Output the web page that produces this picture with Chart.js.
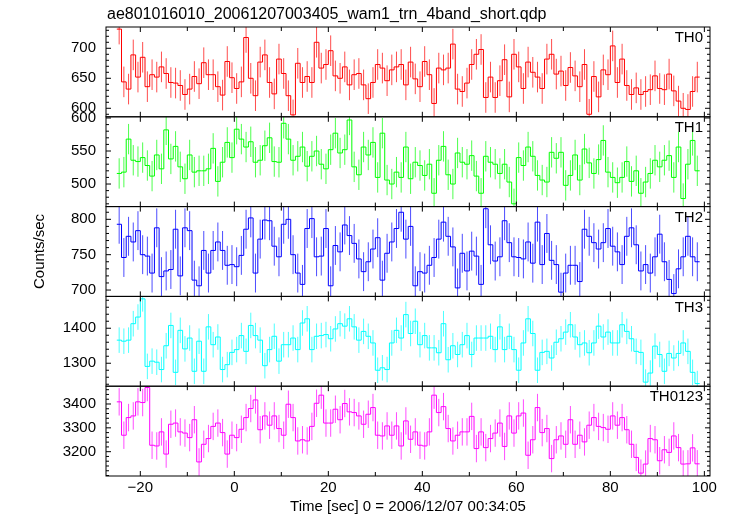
<!DOCTYPE html>
<html>
<head>
<meta charset="utf-8">
<title>ae801016010 WAM TRN light curve</title>
<script src="https://cdn.jsdelivr.net/npm/chart.js@4.4.0/dist/chart.umd.min.js"></script>
<style>
  html, body { margin: 0; padding: 0; background: #fff; }
  #wrap { position: relative; width: 729px; height: 516px; }
</style>
</head>
<body>
<div id="wrap"><canvas id="lc" width="729" height="516"></canvas></div>
<script>
// bin start times [sec], 1 s bins
const binStart = [
  -25, -24, -23, -22, -21, -20, -19, -18, -17, -16, -15, -14, -13, -12, -11, -10, -9, -8, -7, -6,
  -5, -4, -3, -2, -1, 0, 1, 2, 3, 4, 5, 6, 7, 8, 9, 10, 11, 12, 13, 14,
  15, 16, 17, 18, 19, 20, 21, 22, 23, 24, 25, 26, 27, 28, 29, 30, 31, 32, 33, 34,
  35, 36, 37, 38, 39, 40, 41, 42, 43, 44, 45, 46, 47, 48, 49, 50, 51, 52, 53, 54,
  55, 56, 57, 58, 59, 60, 61, 62, 63, 64, 65, 66, 67, 68, 69, 70, 71, 72, 73, 74,
  75, 76, 77, 78, 79, 80, 81, 82, 83, 84, 85, 86, 87, 88, 89, 90, 91, 92, 93, 94,
  95, 96, 97, 98
];
const binWidth = 1;

// count rates (counts/sec) per band
const th0 = [
  732, 644, 632, 689, 652, 685, 636, 656, 652, 669, 658, 643, 642, 638, 623, 632, 653, 641, 676, 656,
  656, 636, 622, 678, 651, 633, 644, 718, 650, 621, 677, 689, 643, 624, 682, 658, 621, 589, 675, 643,
  653, 643, 710, 667, 673, 696, 654, 650, 669, 639, 656, 658, 639, 616, 643, 673, 667, 646, 664, 669,
  673, 639, 677, 649, 636, 678, 656, 608, 667, 664, 667, 707, 632, 628, 642, 673, 690, 698, 618, 652,
  618, 646, 681, 619, 690, 669, 633, 677, 660, 652, 633, 682, 690, 657, 662, 638, 668, 654, 636, 673,
  590, 653, 619, 664, 656, 704, 643, 682, 638, 623, 634, 623, 628, 631, 654, 633, 631, 657, 629, 612,
  600, 598, 628, 652
];
const th1 = [
  516, 518, 568, 536, 534, 540, 528, 512, 544, 523, 582, 538, 557, 526, 508, 544, 518, 520, 520, 523,
  554, 504, 533, 563, 540, 583, 568, 556, 564, 533, 536, 558, 570, 534, 533, 592, 568, 536, 542, 556,
  527, 542, 550, 530, 523, 552, 577, 547, 552, 597, 526, 514, 556, 544, 563, 510, 577, 506, 500, 518,
  510, 556, 508, 533, 528, 513, 530, 486, 536, 557, 514, 500, 547, 533, 530, 543, 512, 486, 542, 533,
  530, 516, 530, 503, 470, 540, 528, 556, 542, 513, 506, 503, 548, 539, 548, 498, 513, 544, 506, 553,
  532, 516, 537, 566, 518, 510, 502, 510, 534, 504, 520, 486, 503, 516, 536, 526, 536, 543, 510, 556,
  478, 530, 566, 520
];
const th2 = [
  793, 746, 776, 768, 784, 750, 748, 724, 788, 719, 727, 729, 786, 720, 788, 784, 714, 706, 756, 724,
  756, 768, 756, 735, 736, 733, 749, 786, 802, 724, 772, 799, 798, 762, 747, 793, 800, 750, 724, 708,
  787, 801, 747, 748, 787, 706, 763, 754, 792, 777, 766, 744, 726, 740, 758, 774, 714, 752, 768, 787,
  810, 772, 790, 706, 726, 724, 735, 746, 772, 796, 776, 761, 703, 752, 727, 755, 748, 708, 815, 764,
  741, 747, 798, 767, 747, 746, 744, 768, 738, 796, 736, 780, 742, 736, 697, 724, 735, 735, 712, 786,
  776, 767, 758, 767, 787, 762, 754, 736, 776, 788, 764, 727, 736, 724, 747, 779, 740, 715, 695, 730,
  747, 776, 747, 740
];
const th3 = [
  1366, 1363, 1366, 1413, 1432, 1484, 1291, 1306, 1303, 1282, 1350, 1408, 1274, 1394, 1341, 1372, 1277, 1363, 1277, 1404,
  1353, 1375, 1282, 1296, 1331, 1339, 1379, 1334, 1408, 1379, 1366, 1293, 1339, 1377, 1306, 1353, 1353, 1372, 1339, 1415,
  1427, 1339, 1377, 1379, 1382, 1370, 1398, 1413, 1406, 1427, 1404, 1366, 1391, 1377, 1358, 1280, 1287, 1282, 1358, 1394,
  1372, 1439, 1385, 1420, 1353, 1379, 1344, 1344, 1330, 1413, 1310, 1350, 1325, 1353, 1379, 1325, 1372, 1372, 1372, 1377,
  1339, 1404, 1339, 1377, 1339, 1280, 1358, 1427, 1385, 1280, 1331, 1334, 1315, 1360, 1370, 1389, 1410, 1375, 1353, 1358,
  1330, 1358, 1406, 1375, 1389, 1358, 1358, 1410, 1391, 1370, 1334, 1331, 1246, 1272, 1349, 1325, 1277, 1328, 1315, 1328,
  1358, 1334, 1274, 1242
];
const th0123 = [
  3409, 3269, 3343, 3350, 3409, 3406, 3469, 3227, 3224, 3283, 3190, 3315, 3320, 3283, 3278, 3259, 3334, 3157, 3231, 3255,
  3306, 3320, 3280, 3190, 3269, 3259, 3294, 3343, 3381, 3417, 3292, 3350, 3311, 3350, 3297, 3269, 3399, 3343, 3245, 3250,
  3245, 3306, 3403, 3437, 3320, 3320, 3378, 3334, 3402, 3367, 3364, 3350, 3315, 3357, 3385, 3269, 3266, 3308, 3269, 3308,
  3224, 3329, 3252, 3283, 3227, 3224, 3283, 3437, 3364, 3389, 3297, 3245, 3269, 3283, 3283, 3348, 3213, 3283, 3217, 3255,
  3278, 3320, 3222, 3350, 3278, 3350, 3362, 3185, 3250, 3385, 3280, 3297, 3171, 3250, 3266, 3231, 3334, 3231, 3269, 3241,
  3311, 3343, 3306, 3301, 3294, 3350, 3311, 3343, 3292, 3231, 3176, 3110, 3148, 3255, 3250, 3162, 3208, 3197, 3266, 3217,
  3148, 3149, 3216, 3149
];

// typical 1-sigma error per band (counts/sec)
const errHalf = [25.5, 23, 27.5, 36.5, 57.5];

const panelNames = ['TH0', 'TH1', 'TH2', 'TH3', 'TH0123'];
const panelRates = [th0, th1, th2, th3, th0123];
const panelMin = [585.8, 465.8, 691, 1234.4, 3098];
const panelMax = [735.5, 601.8, 818, 1491, 3474.6];
const yTicks = [[600, 650, 700], [500, 550, 600], [700, 750, 800], [1300, 1400], [3200, 3300, 3400]];
const yMinorStep = [10, 10, 10, 20, 20];
const xTicks = [-20, 0, 20, 40, 60, 80, 100];
const xMinorStep = 10;

const panelColors = ['#ff0000', '#00ff00', '#0000ff', '#00ffff', '#ff00ff'];
const FONT = "'Liberation Sans', Arial, Helvetica, sans-serif";

// step-histogram points: each bin start, plus closing edge of last bin
function stepPoints(rates) {
    const pts = binStart.map((t, i) => ({ x: t, y: rates[i] }));
    pts.push({ x: binStart[binStart.length - 1] + binWidth, y: rates[rates.length - 1] });
    return pts;
}

const datasets = panelRates.map((rates, k) => ({
    label: panelNames[k],
    data: stepPoints(rates),
    yAxisID: 'y' + k,
    borderColor: panelColors[k],
    borderWidth: 1,
    pointRadius: 0,
    fill: false,
    stepped: 'before',
    tension: 0
}));

const scales = {
    x: {
        type: 'linear',
        min: -27.3,
        max: 101.2,
        afterFit: s => { s.height = 40; },
        afterBuildTicks: s => { s.ticks = xTicks.map(v => ({ value: v })); },
        grid: { display: false, drawTicks: false },
        border: { display: false },
        ticks: {
            padding: 3,
            color: '#000',
            font: { family: FONT, size: 15 },
            maxRotation: 0,
            autoSkip: false,
            callback: v => String(v).replace('-', '\u2212')
        },
        title: {
            display: true,
            text: 'Time [sec] 0 = 2006/12/07 00:34:05',
            color: '#000',
            font: { family: FONT, size: 15 },
            padding: { top: 1, bottom: 0 }
        }
    }
};

panelNames.forEach((name, k) => {
    scales['y' + k] = {
        type: 'linear',
        position: 'left',
        stack: 'panels',
        stackWeight: 1,
        weight: 4 - k,
        min: panelMin[k],
        max: panelMax[k],
        afterFit: s => { s.width = 106; },
        afterBuildTicks: s => { s.ticks = yTicks[k].map(v => ({ value: v })); },
        grid: { display: false, drawTicks: false },
        border: { display: false },
        ticks: {
            padding: 10,
            color: '#000',
            font: { family: FONT, size: 15 },
            callback: v => String(v)
        },
        title: {
            display: k === 2,
            text: 'Counts/sec',
            color: '#000',
            font: { family: FONT, size: 15 },
            padding: { top: 31, bottom: 0 }
        }
    };
});

// clip every band to its own panel; error bars go under the step line
const panelPlugin = {
    id: 'panelPlugin',
    beforeDatasetDraw(chart, args) {
        const k = args.index;
        const xs = chart.scales.x;
        const ys = chart.scales['y' + k];
        const a = chart.chartArea;
        const ctx = chart.ctx;
        const rates = panelRates[k];
        ctx.save();
        ctx.beginPath();
        ctx.rect(a.left, ys.top, a.right - a.left, ys.bottom - ys.top);
        ctx.clip();

        ctx.save();
        ctx.strokeStyle = panelColors[k];
        ctx.globalAlpha = 0.7;
        ctx.lineWidth = 1;
        ctx.beginPath();
        binStart.forEach((t, i) => {
            const px = xs.getPixelForValue(t + binWidth / 2);
            ctx.moveTo(px, ys.getPixelForValue(rates[i] - errHalf[k]));
            ctx.lineTo(px, ys.getPixelForValue(rates[i] + errHalf[k]));
        });
        ctx.stroke();
        ctx.restore();
    },
    afterDatasetDraw(chart) {
        chart.ctx.restore();
    },
    afterDraw(chart) {
        const ctx = chart.ctx;
        const a = chart.chartArea;
        const xs = chart.scales.x;
        ctx.save();
        ctx.strokeStyle = '#000';
        ctx.lineWidth = 1;

        panelNames.forEach((name, k) => {
            const ys = chart.scales['y' + k];
            ctx.strokeRect(a.left, ys.top, a.right - a.left, ys.bottom - ys.top);

            ctx.beginPath();
            // y ticks, inward on both sides
            for (let v = Math.ceil(panelMin[k] / yMinorStep[k]) * yMinorStep[k]; v <= panelMax[k]; v += yMinorStep[k]) {
                const py = ys.getPixelForValue(v);
                const len = yTicks[k].includes(v) ? 5 : 3;
                ctx.moveTo(a.left, py); ctx.lineTo(a.left + len, py);
                ctx.moveTo(a.right, py); ctx.lineTo(a.right - len, py);
            }
            // x ticks, inward at top and bottom
            for (let v = -20; v <= 100; v += xMinorStep) {
                const px = xs.getPixelForValue(v);
                const len = xTicks.includes(v) ? 5 : 4;
                ctx.moveTo(px, ys.top); ctx.lineTo(px, ys.top + len);
                ctx.moveTo(px, ys.bottom); ctx.lineTo(px, ys.bottom - len);
            }
            ctx.stroke();

            ctx.fillStyle = '#000';
            ctx.font = '15px ' + FONT;
            ctx.textAlign = 'right';
            ctx.textBaseline = 'middle';
            ctx.fillText(name, a.right - 7, ys.top + 11);
        });

        ctx.font = '16px ' + FONT;
        ctx.textAlign = 'left';
        ctx.textBaseline = 'middle';
        ctx.fillText('ae801016010_20061207003405_wam1_trn_4band_short.qdp', 107, 15);
        ctx.restore();
    }
};

new Chart(document.getElementById('lc').getContext('2d'), {
    type: 'line',
    data: { datasets },
    options: {
        responsive: false,
        animation: false,
        devicePixelRatio: 1,
        layout: { padding: { left: 0, right: 19, top: 27, bottom: 0 } },
        plugins: {
            legend: { display: false },
            tooltip: { enabled: false }
        },
        scales
    },
    plugins: [panelPlugin]
});
</script>
</body>
</html>
